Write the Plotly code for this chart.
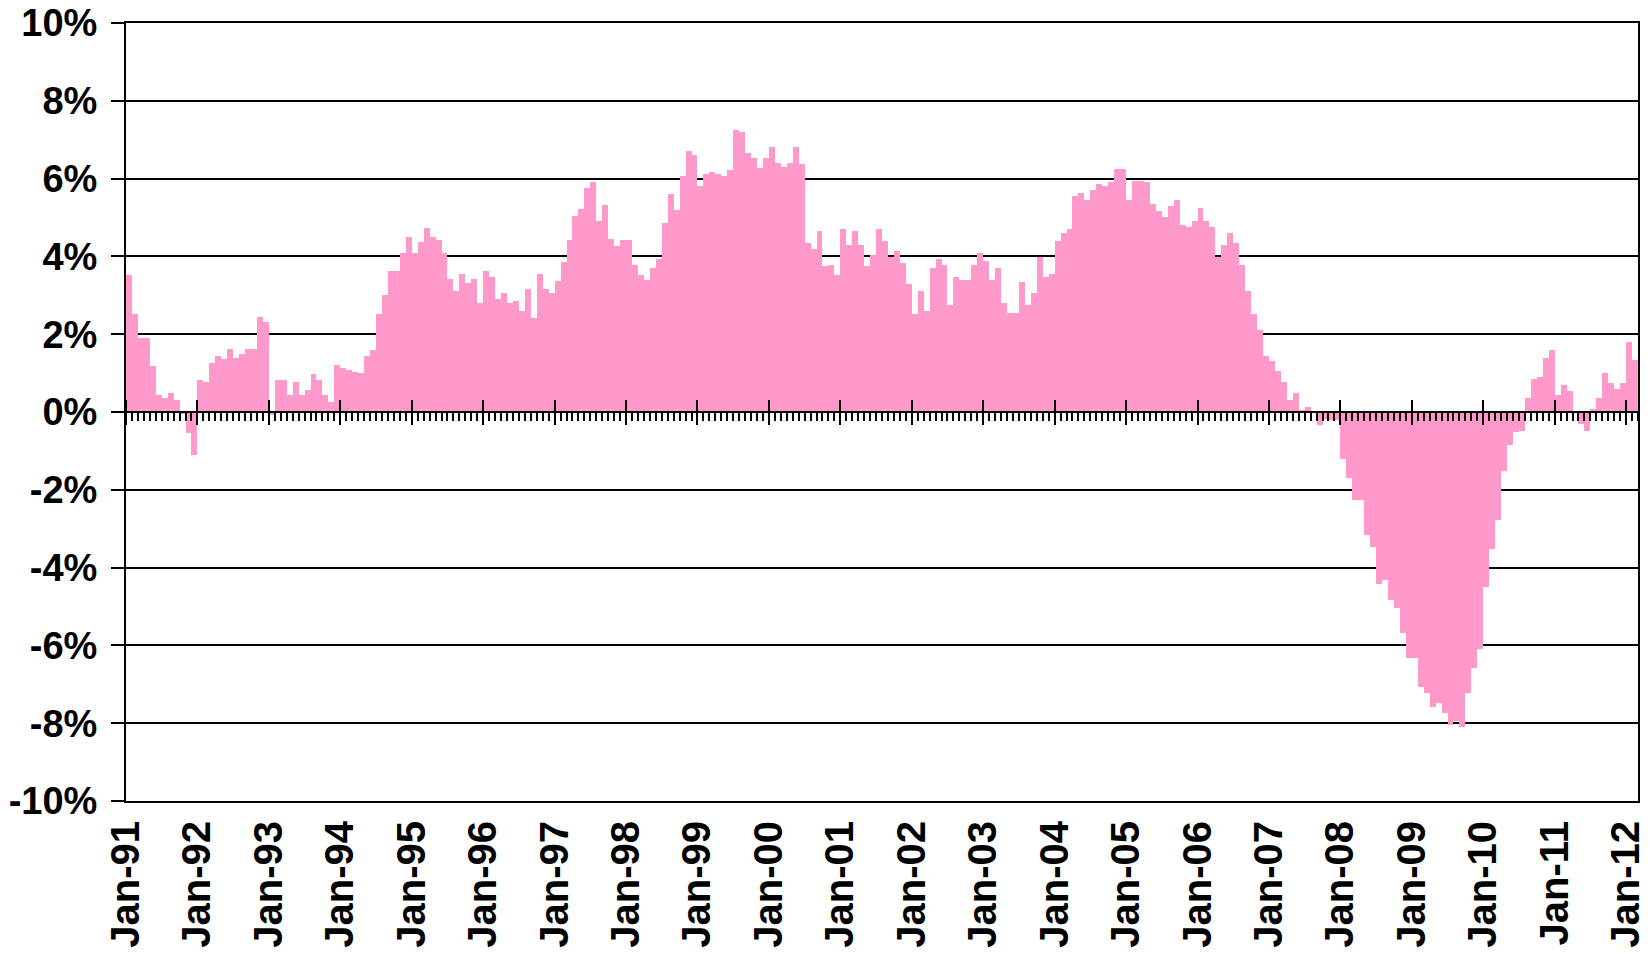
import numpy as np
import plotly.graph_objects as go

# Monthly values (%), Jan-91 .. Feb-12
values = [
    # 1991
    3.53, 2.53, 1.91, 1.91, 1.17, 0.45, 0.35, 0.50, 0.30, -0.06, -0.54, -1.10,
    # 1992
    0.81, 0.76, 1.25, 1.45, 1.35, 1.61, 1.40, 1.50, 1.61, 1.61, 2.43, 2.32,
    # 1993
    -0.08, 0.81, 0.81, 0.45, 0.76, 0.45, 0.56, 0.97, 0.81, 0.45, 0.25, 1.22,
    # 1994
    1.12, 1.07, 1.02, 1.00, 1.44, 1.59, 2.51, 3.00, 3.62, 3.62, 4.10, 4.51,
    # 1995
    4.10, 4.36, 4.72, 4.51, 4.41, 4.10, 3.41, 3.10, 3.56, 3.31, 3.41, 2.79,
    # 1996
    3.62, 3.46, 2.90, 3.05, 2.79, 2.85, 2.59, 3.15, 2.41, 3.56, 3.15, 3.05,
    # 1997
    3.36, 3.85, 4.41, 5.03, 5.21, 5.77, 5.92, 4.92, 5.31, 4.46, 4.26, 4.41,
    # 1998
    4.41, 3.77, 3.51, 3.40, 3.71, 3.94, 4.86, 5.60, 5.19, 6.06, 6.70, 6.60,
    # 1999
    5.80, 6.11, 6.16, 6.11, 6.06, 6.21, 7.26, 7.21, 6.65, 6.54, 6.26, 6.54,
    # 2000
    6.80, 6.39, 6.29, 6.39, 6.80, 6.37, 4.35, 4.20, 4.66, 3.76, 3.79, 3.51,
    # 2001
    4.71, 4.30, 4.66, 4.30, 3.76, 4.04, 4.71, 4.40, 3.99, 4.14, 3.84, 3.30,
    # 2002
    2.51, 3.10, 2.59, 3.71, 3.94, 3.79, 2.74, 3.46, 3.40, 3.40, 3.79, 4.09,
    # 2003
    3.89, 3.40, 3.71, 2.79, 2.54, 2.54, 3.35, 2.74, 3.05, 3.99, 3.46, 3.56,
    # 2004
    4.40, 4.60, 4.70, 5.54, 5.64, 5.44, 5.70, 5.85, 5.80, 5.90, 6.25, 6.25,
    # 2005
    5.44, 5.95, 5.95, 5.90, 5.34, 5.16, 5.01, 5.29, 5.44, 4.80, 4.75, 4.90,
    # 2006
    5.24, 4.90, 4.75, 3.99, 4.29, 4.60, 4.34, 3.78, 3.10, 2.51, 2.10, 1.44,
    # 2007
    1.31, 1.06, 0.78, 0.32, 0.48, 0.06, 0.12, -0.02, -0.34, -0.18, -0.20, -0.20,
    # 2008
    -1.21, -1.69, -2.26, -2.26, -3.15, -3.46, -4.41, -4.32, -4.83, -5.03, -5.67, -6.33,
    # 2009
    -6.33, -7.08, -7.23, -7.59, -7.49, -7.74, -8.05, -7.95, -8.10, -7.23, -6.59, -6.08,
    # 2010
    -4.51, -3.51, -2.77, -1.51, -0.85, -0.52, -0.49, 0.35, 0.86, 0.91, 1.39, 1.59,
    # 2011
    0.45, 0.70, 0.55, 0.00, -0.31, -0.49, 0.07, 0.35, 1.01, 0.75, 0.60, 0.75,
    # 2012
    1.80, 1.34,
]

year_labels = ["Jan-91", "Jan-92", "Jan-93", "Jan-94", "Jan-95", "Jan-96", "Jan-97",
               "Jan-98", "Jan-99", "Jan-00", "Jan-01", "Jan-02", "Jan-03", "Jan-04",
               "Jan-05", "Jan-06", "Jan-07", "Jan-08", "Jan-09", "Jan-10", "Jan-11",
               "Jan-12"]

y_tick_values = [-10, -8, -6, -4, -2, 0, 2, 4, 6, 8, 10]
y_tick_labels = ["-10%", "-8%", "-6%", "-4%", "-2%", "0%", "2%", "4%", "6%", "8%", "10%"]

month_index = np.arange(len(values))
year_ticks = list(month_index[::12])

FONT = "Liberation Sans, Arial, sans-serif"
BAR_COLOR = "#FF99CC"

fig = go.Figure()
fig.add_trace(go.Bar(
    x=month_index, y=values, offset=0, width=1,
    marker=dict(color=BAR_COLOR, line=dict(width=0)),
    showlegend=False,
))
# invisible helpers so the overlaid tick / border axes are rendered
for ax in ("x2", "x3", "x4"):
    fig.add_trace(go.Scatter(x=month_index, y=values, mode="none", xaxis=ax,
                             showlegend=False, hoverinfo="skip"))

xrange = [0, len(values)]

fig.update_layout(
    width=1650, height=954,
    margin=dict(l=126, r=12, t=23, b=153, autoexpand=False),
    paper_bgcolor="white", plot_bgcolor="white",
    bargap=0,
    showlegend=False,
    xaxis=dict(
        range=xrange, tickmode="array", tickvals=year_ticks, ticktext=year_labels,
        tickangle=-90, ticks="", showgrid=False, zeroline=False, automargin=False,
        showline=True, mirror=True, linecolor="black", linewidth=2,
        tickfont=dict(family=FONT, size=40, color="black", weight="bold"),
        ticklabelstandoff=2, ticklabeloverflow="allow",
    ),
    xaxis2=dict(
        overlaying="x", matches="x", anchor="free", position=0.5, side="bottom",
        range=xrange, tickmode="array", tickvals=year_ticks, showticklabels=False,
        ticks="outside", ticklen=12, tickwidth=2, tickcolor="black",
        showline=True, linecolor="black", linewidth=2, automargin=False,
        showgrid=False, zeroline=False,
        minor=dict(ticks="outside", ticklen=8, tickwidth=1.5, tickcolor="black",
                   tickmode="linear", tick0=0, dtick=1, showgrid=False),
    ),
    xaxis3=dict(
        overlaying="x", matches="x", anchor="free", position=0.5, side="top",
        range=xrange, tickmode="array", tickvals=year_ticks, showticklabels=False,
        ticks="outside", ticklen=12, tickwidth=2, tickcolor="black", automargin=False,
        showline=False, showgrid=False, zeroline=False,
    ),
    xaxis4=dict(
        overlaying="x", matches="x", anchor="y", side="top",
        range=xrange, showticklabels=False, ticks="", automargin=False,
        showline=True, linecolor="black", linewidth=2,
        showgrid=False, zeroline=False,
    ),
    yaxis=dict(
        range=[-10, 10], tickmode="array", tickvals=y_tick_values, ticktext=y_tick_labels,
        showgrid=True, gridcolor="black", gridwidth=1.5, zeroline=False, automargin=False,
        showline=True, mirror=True, linecolor="black", linewidth=2,
        ticks="outside", ticklen=13, tickwidth=1.5, tickcolor="black",
        tickfont=dict(family=FONT, size=38, color="black", weight="bold"),
        ticklabelstandoff=6, ticklabeloverflow="allow",
    ),
)

# remove the browser's default 8px page margin so the figure fills the window
fig.write_html("out.html", config={"displayModeBar": False},
               post_script="document.body.style.margin='0';")
